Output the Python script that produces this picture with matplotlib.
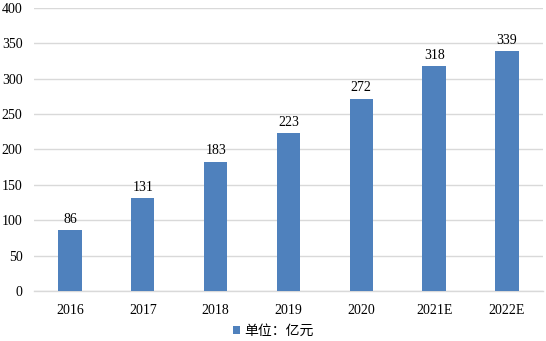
import matplotlib
matplotlib.use("Agg")
import matplotlib.pyplot as plt
import numpy as np

categories = ["2016", "2017", "2018", "2019", "2020", "2021E", "2022E"]
values = [86, 131, 183, 223, 272, 318, 339]
yticks = [0, 50, 100, 150, 200, 250, 300, 350, 400]
legend_label = "单位：亿元"

plt.rcParams['font.family'] = ['Liberation Serif', 'Noto Sans CJK SC', 'DejaVu Sans']

fig = plt.figure(figsize=(5.46, 3.41), dpi=100)
ax = fig.add_axes([0.0615, 0.1466, 0.9337, 0.83])
x = np.arange(len(categories))
color = "#4F81BD"
bars = ax.bar(x, values, width=0.32, color=color, label=legend_label, zorder=3)
for xi, v in zip(x, values):
    ax.text(xi, v + 6, str(v), ha='center', va='bottom', fontsize=10, color='#000000')

ax.set_ylim(0, 400)
ax.set_xlim(-0.5, len(categories) - 0.5)
ax.set_yticks(yticks)
ax.set_xticks(x)
ax.set_xticklabels(categories)
ax.tick_params(axis='both', length=0, labelsize=10, colors='#000000')
ax.tick_params(axis='y', pad=8)
ax.tick_params(axis='x', pad=9)
ax.grid(axis='y', color='#D9D9D9', linewidth=1, zorder=0)
for s in ['top', 'right', 'left']:
    ax.spines[s].set_visible(False)
ax.spines['bottom'].set_color('#D9D9D9')
ax.spines['bottom'].set_linewidth(1)

leg = fig.legend(handles=[bars], labels=[legend_label], loc='center', bbox_to_anchor=(0.5, 0.03),
                 frameon=False, fontsize=10, handlelength=0.5, handleheight=0.5, handletextpad=0.3,
                 prop={'family': ['Noto Sans CJK SC'], 'size': 10})

fig.savefig("out.png", dpi=100)
